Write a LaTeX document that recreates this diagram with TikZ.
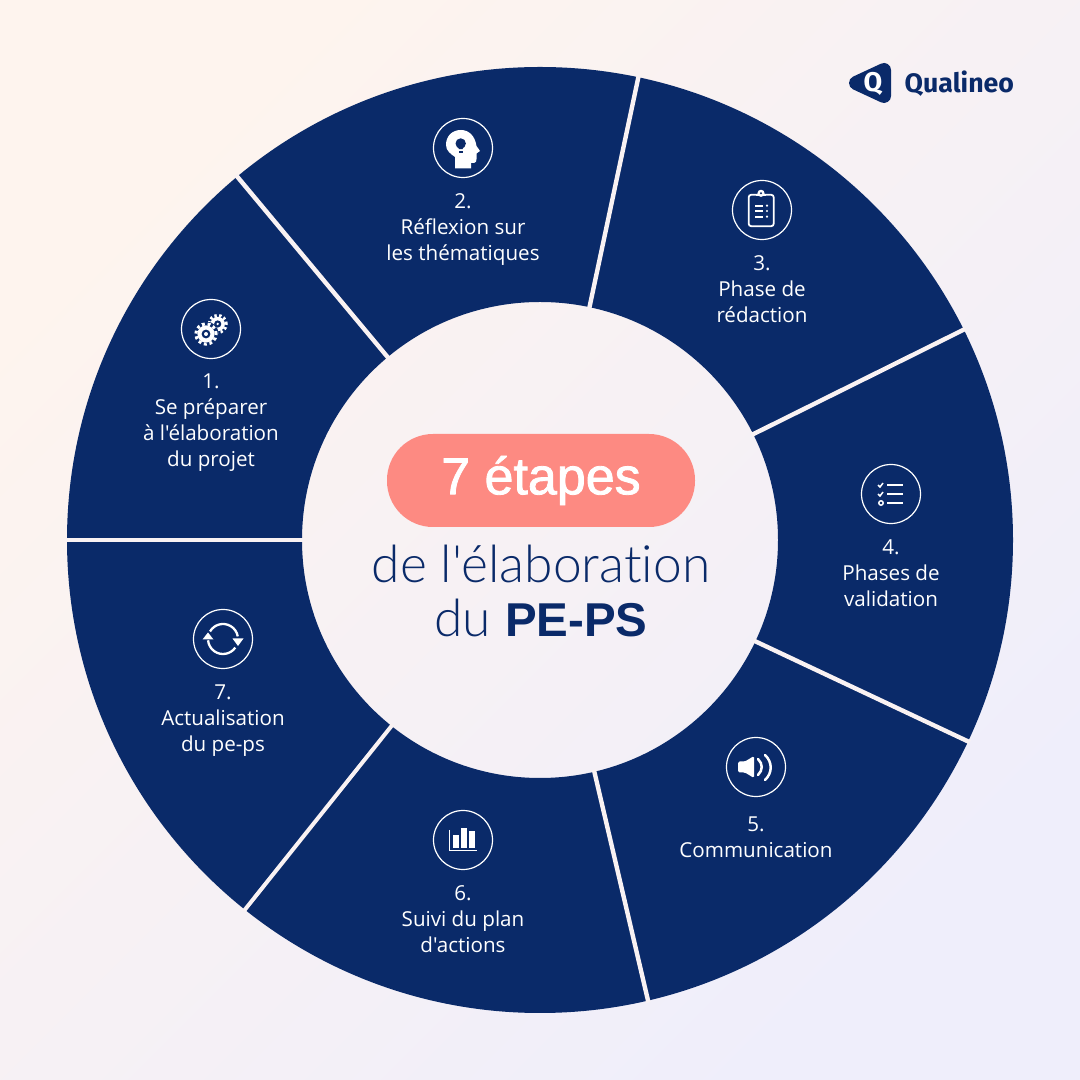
\documentclass[tikz,border=0pt]{standalone}
\usepackage{fontspec}
\setmainfont[Ligatures=TeXOff]{Open Sans}
\newfontfamily\pillfont[FakeBold=1.6]{Liberation Sans}
\newfontfamily\lightfont[Ligatures=CommonOff]{Lato Light}
\newfontfamily\headfont{Liberation Sans}
\newfontfamily\logofont{Fira Sans Bold}
\usetikzlibrary{positioning, calc}

\definecolor{navy}{HTML}{0A2A69}
\definecolor{coral}{HTML}{FD8A82}
\definecolor{peach}{HTML}{FEF4EE}
\definecolor{lavender}{HTML}{EFEEFB}
\definecolor{gapcolor}{HTML}{F9F2F3}

\tikzset{
    iconring/.style={circle, draw=white, line width=1.2pt, minimum size=59pt, inner sep=0pt},
    steplabel/.style={text=white, align=center, inner sep=0pt, font=\fontsize{20.6}{26}\selectfont},
    icon/.style={white, line width=2.3pt},
}

% Icons, drawn around the centre of their ring
\newcommand{\icongears}{
    \fill[white] (6.7,5) circle (7.2);
    \draw[icon, line width=3pt, dash pattern=on 2.4pt off 2.4pt] (6.7,5) circle (8.6);
    \fill[navy] (6.7,5) circle (3.6);
    \fill[white] (6.7,5) circle (1.3);
    \fill[navy] (-5,-5) circle (12.6);
    \fill[white] (-5,-5) circle (8.6);
    \draw[icon, line width=3pt, dash pattern=on 2.9pt off 2.8pt] (-5,-5) circle (10.2);
    \fill[navy] (-5,-5) circle (4.4);
    \fill[white] (-5,-5) circle (2);
}
\newcommand{\iconhead}{
    \fill[white] (-8,-20.5) -- (8,-20.5) -- (8,-15) -- (11,-15) .. controls (13,-15) and (13.5,-13) .. (13.5,-11)
        -- (13.5,-5.5) -- (17,-3) -- (13.5,2) .. controls (12,12) and (6,18) .. (-2,18)
        .. controls (-11,18) and (-17,12) .. (-17,3) .. controls (-17,-3) and (-12,-6) .. (-8,-9) -- cycle;
    \fill[navy] (-2.3,4.5) circle (5.2);
    \fill[navy] (-5.5,2) -- (1,2) -- (-0.5,-1.2) -- (-4,-1.2) -- cycle;
    \fill[navy] (-4.5,-5.2) rectangle (0,-3.4);
}
\newcommand{\iconclipboard}{
    \draw[icon, line width=1.8pt, rounded corners=2.5pt] (-13.3,-16.2) rectangle (11.7,15.2);
    \fill[white] (-6,13.5) rectangle (4,15.8);
    \fill[white] (-1,16.7) circle (3.6);
    \fill[navy] (-1,16.7) circle (1.2);
    \foreach \y in {4.3,-1,-6.7} {
        \draw[icon, line width=1.8pt] (-6.7,\y) -- (1,\y);
        \fill[white] (5,\y) circle (1.2);
    }
}
\newcommand{\iconlist}{
    \foreach \y in {9,0,-9} {
        \draw[icon, line width=1.5pt] (-4,\y) -- (12,\y);
    }
    \foreach \y in {9,0} {
        \draw[icon, line width=1.5pt] (-13,\y) -- (-11,\y-2) -- (-8,\y+2);
    }
    \draw[icon, line width=1.5pt] (-10,-9) circle (2.2);
}
\newcommand{\iconspeaker}{
    \fill[white, rounded corners=1.5pt] (-18,-5.5) -- (-11,-5.5) -- (-2,-11) -- (-2,11) -- (-11,5.5) -- (-18,5.5) -- cycle;
    \draw[icon, line width=2.5pt, line cap=round] (2,8) .. controls (7,3) and (7,-3) .. (2,-8);
    \draw[icon, line width=2.5pt, line cap=round] (9,12) .. controls (16.6,5) and (16.6,-6) .. (9,-13);
}
\newcommand{\iconrefresh}{
    \draw[icon] (0,0) ++(150:15) arc (150:10:15);
    \draw[icon] (0,0) ++(-35:15) arc (-35:-175:15);
    \fill[white] (9.5,0.5) -- (20.5,0.5) -- (15,-7) -- cycle;
    \fill[white] (-20.5,-0.5) -- (-9.5,-0.5) -- (-15,6.5) -- cycle;
}
\newcommand{\iconbars}{
    \draw[icon, line width=1.6pt] (-13.7,10) -- (-13.7,-10.7) -- (13.7,-10.7);
    \fill[white] (-9.7,-8) rectangle (-3.7,5);
    \fill[white] (-2,-8) rectangle (3.7,12);
    \fill[white] (6,-8) rectangle (12,9.3);
}

\begin{document}
\begin{tikzpicture}[x=1pt, y=1pt]
    \def\router{473}
    \def\rinner{238}
    \useasboundingbox (0,0) rectangle (1080,1080);

    % 1. Background and ring
    \shade[left color=peach, right color=lavender, shading angle=45] (0,0) rectangle (1080,1080);
    \coordinate (O) at (540,540);
    \fill[navy, even odd rule] (O) circle (\router) (O) circle (\rinner);

    % 2. Separators between the seven steps
    \foreach \n/\a/\w in {1/180/3.2, 2/129.8/4.4, 3/78/4.4, 4/26.4/4.4, 5/-25.2/4.4, 6/-76.8/4.4, 7/-128.6/4}
    {
        \coordinate (in\n) at ($(O)+(\a:\rinner-2)$);
        \coordinate (out\n) at ($(O)+(\a:\router+2)$);
        \draw[gapcolor, line width=\w pt] (in\n) -- (out\n);
    }

    % 3. Icons and labels
    \node[iconring] (ring1) at (211,751) {};
    \node[iconring] (ring2) at (463,932) {};
    \node[iconring] (ring3) at (762,870) {};
    \node[iconring] (ring4) at (891,586) {};
    \node[iconring] (ring5) at (756,313) {};
    \node[iconring] (ring6) at (463,240) {};
    \node[iconring] (ring7) at (223,441) {};

    \begin{scope}[shift={(ring1)}] \icongears \end{scope}
    \begin{scope}[shift={(ring2)}] \iconhead \end{scope}
    \begin{scope}[shift={(ring3)}] \iconclipboard \end{scope}
    \begin{scope}[shift={(ring4)}] \iconlist \end{scope}
    \begin{scope}[shift={(ring5)}] \iconspeaker \end{scope}
    \begin{scope}[shift={(ring6)}] \iconbars \end{scope}
    \begin{scope}[shift={(ring7)}] \iconrefresh \end{scope}

    \node[steplabel, below=14pt of ring1] (label1) {1.\\Se préparer\\à l'élaboration\\du projet};
    \node[steplabel, below=15pt of ring2] (label2) {2.\\Réflexion sur\\les thématiques};
    \node[steplabel, below=15pt of ring3] (label3) {3.\\Phase de\\rédaction};
    \node[steplabel, below=15pt of ring4] (label4) {4.\\Phases de\\validation};
    \node[steplabel, below=19pt of ring5] (label5) {5.\\Communication};
    \node[steplabel, below=15pt of ring6] (label6) {6.\\Suivi du plan\\d'actions};
    \node[steplabel, below=15pt of ring7] (label7) {7.\\Actualisation\\du pe-ps};

    % 4. Centre title
    \node[fill=coral, rounded corners=46pt, minimum width=308pt, minimum height=93pt, text=white,
        font=\pillfont\fontsize{52}{52}\selectfont] (pill) at (541,599.5) {7 étapes};
    \node[text=navy, inner sep=0pt, font=\lightfont\fontsize{51.5}{51.5}\selectfont, below=18pt of pill] (title1) {de l'élaboration};
    \node[text=navy, inner sep=0pt, font=\lightfont\fontsize{51.5}{51.5}\selectfont, below=15pt of title1] (title2) {du {\headfont\bfseries\fontsize{47.5}{47.5}\selectfont PE-PS}};

    % 5. Logo
    \fill[navy, draw=navy, line width=14pt, line join=round] (856,997) -- (884,1010) -- (884,984) -- cycle;
    \node[text=white, inner sep=0pt, font=\logofont\fontsize{27}{27}\selectfont] (logoq) at (873,996) {Q};
    \node[text=navy, inner sep=0pt, font=\logofont\fontsize{26.7}{26.7}\selectfont, right=22pt of logoq] (logoname) {Qualineo};
\end{tikzpicture}
\end{document}
